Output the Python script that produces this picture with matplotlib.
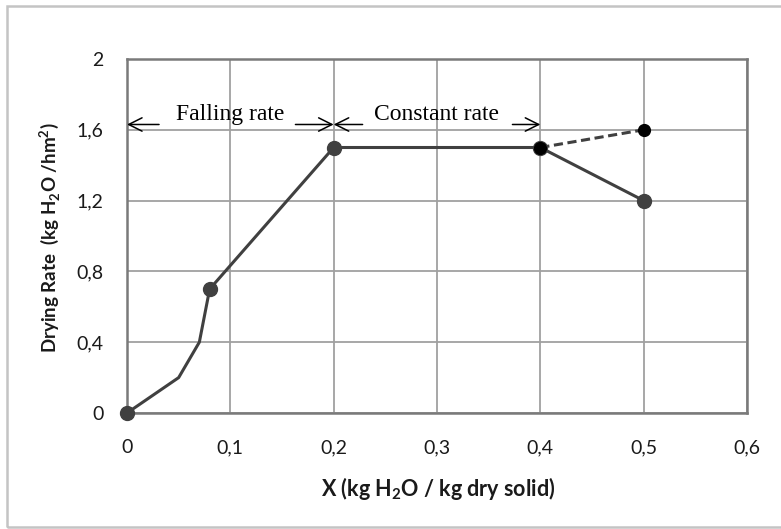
import matplotlib
matplotlib.use("Agg")
import matplotlib.pyplot as plt
from matplotlib.patches import Rectangle

# Data
x_main = [0.0, 0.05, 0.07, 0.08, 0.2, 0.4, 0.5]
y_main = [0.0, 0.2, 0.4, 0.7, 1.5, 1.5, 1.2]
x_mark = [0.0, 0.08, 0.2, 0.4, 0.5]
y_mark = [0.0, 0.7, 1.5, 1.5, 1.2]
x_dash = [0.4, 0.5]
y_dash = [1.5, 1.6]
x_ticks = [0, 0.1, 0.2, 0.3, 0.4, 0.5, 0.6]
x_tick_labels = ["0", "0,1", "0,2", "0,3", "0,4", "0,5", "0,6"]
y_ticks = [0, 0.4, 0.8, 1.2, 1.6, 2.0]
y_tick_labels = ["0", "0,4", "0,8", "1,2", "1,6", "2"]
regions = [("Falling rate", 0.0, 0.2), ("Constant rate", 0.2, 0.4)]

# layout of the arrow shafts (inner ends), per region
arrow_inner = [(0.031, 0.163), (0.228, 0.373)]

plt.rcParams['font.family'] = ['Lato', 'DejaVu Sans']
plt.rcParams['mathtext.fontset'] = 'custom'
plt.rcParams['mathtext.rm'] = 'Lato'
plt.rcParams['mathtext.bf'] = 'Lato:bold'

W, H = 781, 529
fig = plt.figure(figsize=(W/100, H/100), dpi=100)
fig.patch.set_facecolor('white')
fig.patches.append(Rectangle((7/W, (H-527)/H), (W+10)/W, (527-6)/H,
                             transform=fig.transFigure, fill=False,
                             edgecolor='#c4c4c4', linewidth=1.8))

ax = fig.add_axes([127/W, (H-413)/H, 620/W, 354/H])
ax.set_xlim(0, 0.6)
ax.set_ylim(0, 2)
ax.set_xticks(x_ticks)
ax.set_xticklabels(x_tick_labels)
ax.set_yticks(y_ticks)
ax.set_yticklabels(y_tick_labels)
ax.tick_params(length=0, labelsize=14, colors='#1a1a1a')
ax.tick_params(axis='x', pad=19)
ax.tick_params(axis='y', pad=17)
ax.grid(True, color='#a0a0a0', linewidth=1.3)
ax.set_axisbelow(True)
for s in ax.spines.values():
    s.set_color('#7a7a7a')
    s.set_linewidth(1.8)

ax.plot(x_main, y_main, color='#404040', linewidth=2.2, zorder=3, clip_on=False)
ax.plot(x_mark, y_mark, linestyle='none', marker='o', markersize=10,
        color='#404040', zorder=4, clip_on=False)
ax.plot(x_dash, y_dash, color='#404040', linewidth=2.2, linestyle=(0, (3, 1.5)),
        marker='o', markersize=8.5, markerfacecolor='black', markeredgecolor='black',
        zorder=5, clip_on=False)

arrow_y = 1.63
for (label, x0, x1), (a0, a1) in zip(regions, arrow_inner):
    xc = (x0 + x1) / 2
    ax.text(xc, 1.685, label, ha='center', va='center', fontsize=17,
            family=['Liberation Serif'], color='black', zorder=6)
    for tip, tail in ((x0, a0), (x1, a1)):
        ax.annotate('', xy=(tip, arrow_y), xytext=(tail, arrow_y),
                    arrowprops=dict(arrowstyle='->', color='black', lw=1.1,
                                    mutation_scale=24, shrinkA=0, shrinkB=0),
                    zorder=6)

fig.text(438/W, (H-489)/H, r"X (kg H$_\mathbf{2}$O / kg dry solid)", ha='center', va='center',
         fontsize=15.5, fontweight='bold', color='#1a1a1a')
fig.text(50/W, (H-238)/H, r"Drying Rate  (kg H$_\mathbf{2}$O /hm$^\mathbf{2}$)", ha='center', va='center',
         rotation=90, fontsize=13.5, fontweight='bold', color='#1a1a1a')

fig.savefig("out.png", dpi=100)
